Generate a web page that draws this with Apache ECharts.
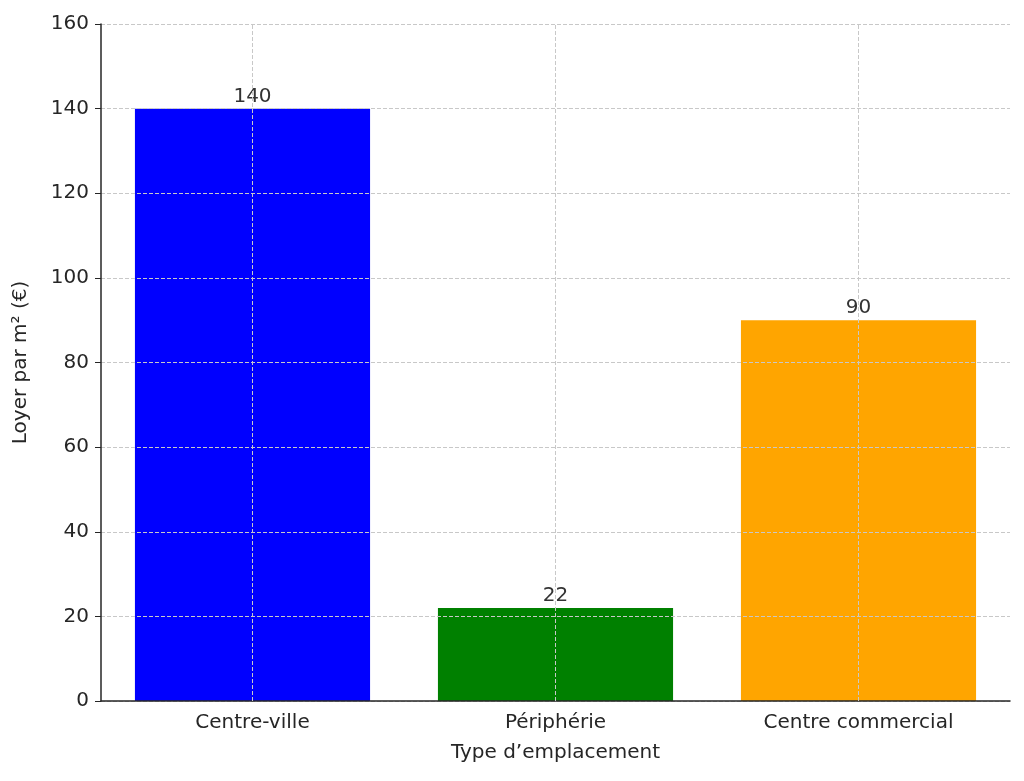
<!DOCTYPE html>
<html><head><meta charset="utf-8">
<script src="https://cdn.jsdelivr.net/npm/echarts@6/dist/echarts.min.js"></script>
<style>html,body{margin:0;padding:0;background:#fff}#c{width:1024px;height:781px}</style>
</head><body><div id="c"></div>
<script>
const categories = ['Centre-ville', 'Périphérie', 'Centre commercial'];
const values = [140, 22, 90];
const colors = ['#0000ff', '#008000', '#ffa500'];
const yTicks = [0, 20, 40, 60, 80, 100, 120, 140, 160];
const font = 'DejaVu Sans';
const grid = {type:'dashed', color:'#c8c8c8', width:1};
const chart = echarts.init(document.getElementById('c'));
chart.setOption({
  animation:false,
  textStyle:{fontFamily:font},
  grid:{left:101, right:14, top:24, bottom:80},
  xAxis:{type:'category', data:categories, z:3,
    name:'Type d\u2019emplacement', nameLocation:'middle', nameGap:42,
    nameTextStyle:{fontSize:20, color:'#262626', fontFamily:font},
    axisLine:{lineStyle:{color:'#262626', width:1.5}},
    axisTick:{alignWithLabel:true, length:6, lineStyle:{color:'#262626'}},
    axisLabel:{fontSize:20, color:'#262626', margin:12, fontFamily:font}},
  yAxis:{type:'value', min:yTicks[0], max:yTicks[yTicks.length-1], interval:20, z:3,
    name:'Loyer par m² (€)', nameLocation:'middle', nameGap:70,
    nameTextStyle:{fontSize:20, color:'#262626', fontFamily:font},
    axisLine:{show:true, lineStyle:{color:'#262626', width:1.5}},
    axisTick:{show:true, length:6, lineStyle:{color:'#262626'}},
    axisLabel:{fontSize:20, color:'#262626', margin:12, fontFamily:font},
    splitLine:{show:true, lineStyle:grid}},
  series:[{type:'bar', barWidth:'77.6%',
    data:values.map((v,i)=>({value:v, itemStyle:{color:colors[i]}})),
    label:{show:true, position:'top', distance:2, fontSize:20, color:'#333', fontFamily:font},
    markLine:{silent:true, symbol:'none', z:5, label:{show:false}, lineStyle:grid,
      data:categories.map(c=>({xAxis:c}))}
  }]
});
</script></body></html>
